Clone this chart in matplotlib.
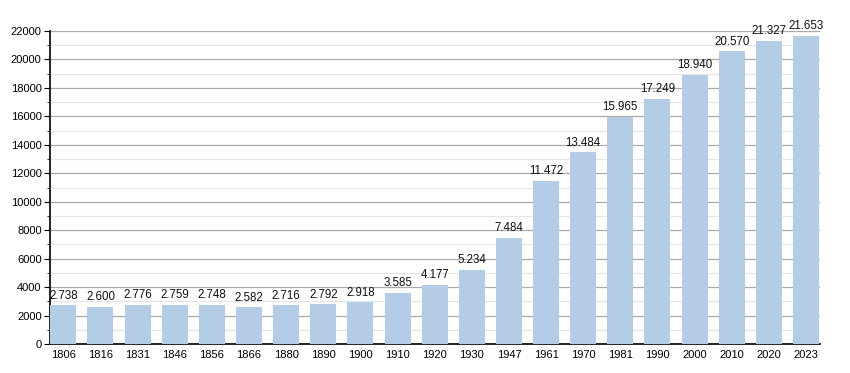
import matplotlib

matplotlib.use("Agg")
import matplotlib.pyplot as plt
from matplotlib.ticker import MultipleLocator

years = ["1806", "1816", "1831", "1846", "1856", "1866", "1880", "1890", "1900", "1910",
         "1920", "1930", "1947", "1961", "1970", "1981", "1990", "2000", "2010", "2020", "2023"]
population = [2738, 2600, 2776, 2759, 2748, 2582, 2716, 2792, 2918, 3585,
              4177, 5234, 7484, 11472, 13484, 15965, 17249, 18940, 20570, 21327, 21653]

plt.rcParams["font.family"] = ["Liberation Sans", "DejaVu Sans"]

fig = plt.figure(figsize=(8.5, 3.73), dpi=100)
ax = fig.add_axes([0.0588, 0.0777, 0.906, 0.8392])

x = range(len(years))
ax.bar(x, population, width=0.7, color="#b3cde6", zorder=3)
for xi, v in zip(x, population):
    ax.text(xi, v + 250, f"{v:,}".replace(",", "."), ha="center", va="bottom",
            fontsize=8.3, color="#111111", zorder=4)

ax.set_xlim(-0.36, len(years) - 1 + 0.38)
ax.set_ylim(0, 22000)
ax.set_xticks(list(x))
ax.set_xticklabels(years)
ax.yaxis.set_major_locator(MultipleLocator(2000))
ax.yaxis.set_minor_locator(MultipleLocator(1000))
ax.grid(True, which="major", axis="y", color="#aaaaaa", lw=0.9, zorder=0)
ax.grid(True, which="minor", axis="y", color="#e6e6e6", lw=0.9, zorder=0)
ax.tick_params(axis="x", length=0, labelsize=8, pad=4)
ax.tick_params(axis="y", which="major", length=4, labelsize=8, pad=2)
ax.tick_params(axis="y", which="minor", length=2.5)
for side in ("top", "right"):
    ax.spines[side].set_visible(False)
ax.spines["left"].set_linewidth(1.2)
ax.spines["bottom"].set_linewidth(1.2)

fig.savefig("out.png", dpi=100)
